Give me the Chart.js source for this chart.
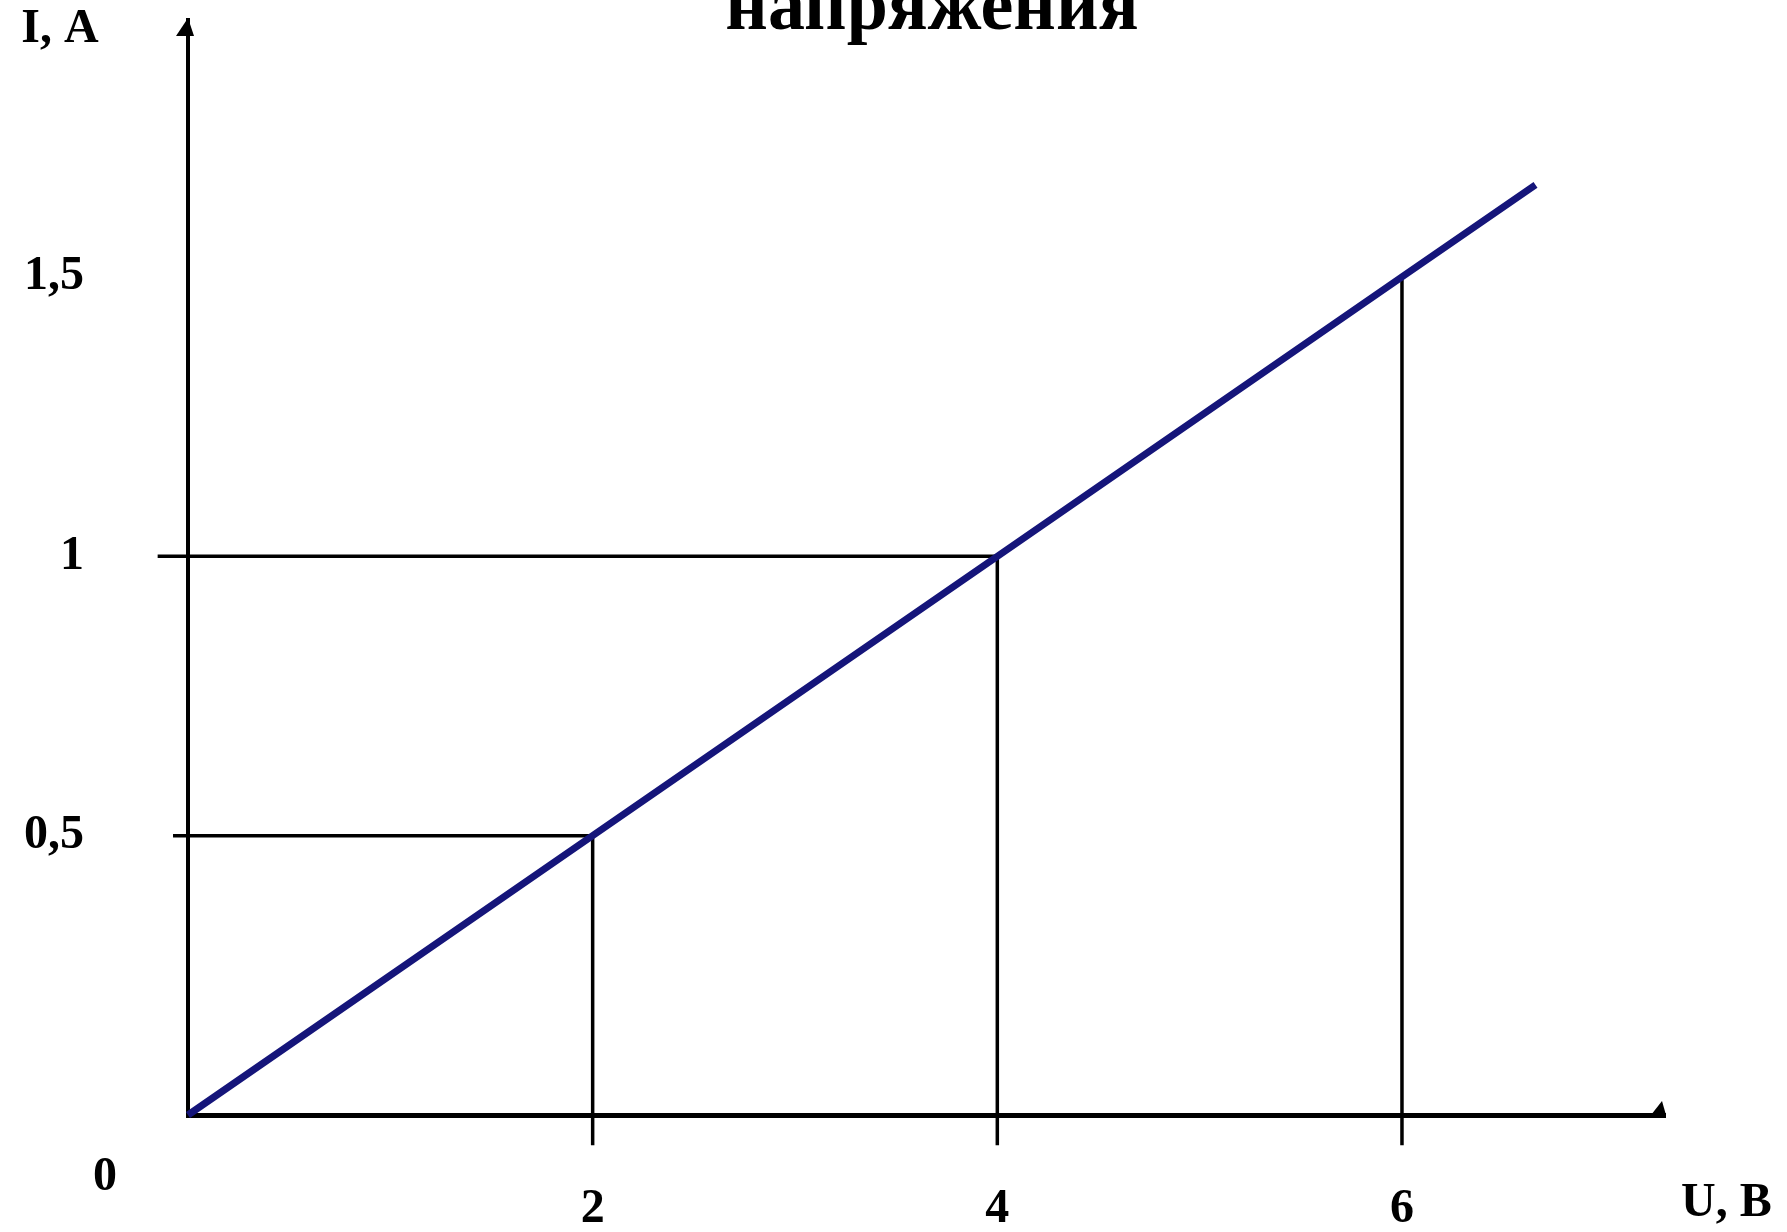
<!DOCTYPE html>
<html>
<head>
<meta charset="utf-8">
<script src="https://cdn.jsdelivr.net/npm/chart.js@4"></script>
<style>
  html, body { margin: 0; padding: 0; background: #fff; }
  #wrap { width: 1787px; height: 1232px; position: relative; }
</style>
</head>
<body>
<div id="wrap"><canvas id="chartVA"></canvas></div>
<script>
// вольт-амперная характеристика: I = U / R
const lineU = [0, 2, 4, 6, 6.66];
const lineI = [0, 0.5, 1, 1.5, 1.665];

// вспомогательные линии к точкам графика
const guideU = [2, 4, 6];
const guideI = [0.5, 1, 1.5];
const guideLeft = [-0.074, -0.15, null];
const guideBottom = -0.054;

const xTicks = [2, 4, 6];
const xTickLabels = ['2', '4', '6'];
const yTicks = [0.5, 1, 1.5];
const yTickLabels = ['0,5', '1', '1,5'];

const titleText = 'напряжения';
const xTitle = 'U, В';
const yTitle = 'I, A';
const originLabel = '0';

const labelFont = 'bold 48px "Liberation Serif"';

const guideSets = guideU.map((u, k) => {
    const pts = [];
    if (guideLeft[k] !== null) pts.push({x: guideLeft[k], y: guideI[k]});
    pts.push({x: u, y: guideI[k]});
    pts.push({x: u, y: guideBottom});
    return {
        data: pts,
        showLine: true,
        borderColor: '#000',
        borderWidth: 3.5,
        pointRadius: 0,
        clip: false
    };
});

const extras = {
    id: 'extras',
    afterDraw(chart) {
        const ctx = chart.ctx;
        const x = chart.scales.x, y = chart.scales.y;
        const ox = x.getPixelForValue(0), oy = y.getPixelForValue(0);
        const top = chart.chartArea.top, right = chart.chartArea.right;
        ctx.save();
        ctx.fillStyle = '#000';
        // стрелки осей
        ctx.beginPath();
        ctx.moveTo(ox, top - 2);
        ctx.lineTo(ox - 12, top + 16);
        ctx.lineTo(ox + 6, top + 16);
        ctx.closePath();
        ctx.fill();
        ctx.beginPath();
        ctx.moveTo(right - 14, oy);
        ctx.lineTo(right + 1, oy);
        ctx.lineTo(right - 3, oy - 14);
        ctx.closePath();
        ctx.fill();
        // подписи
        ctx.font = labelFont;
        ctx.textBaseline = 'middle';
        ctx.textAlign = 'center';
        ctx.fillText(yTitle, 60, 30);
        ctx.fillText(originLabel, ox - 83, oy + 63);
        ctx.textAlign = 'left';
        ctx.fillText(xTitle, right + 16, oy + 89);
        ctx.font = 'bold 74px "Liberation Serif"';
        ctx.textAlign = 'center';
        ctx.textBaseline = 'alphabetic';
        ctx.fillText(titleText, 932, 29);
        ctx.restore();
    }
};

const ctx = document.getElementById('chartVA').getContext('2d');
new Chart(ctx, {
    type: 'scatter',
    data: {
        datasets: [{
            data: lineU.map((u, i) => ({x: u, y: lineI[i]})),
            showLine: true,
            borderColor: '#15157a',
            borderWidth: 7,
            pointRadius: 0,
            clip: false
        }].concat(guideSets)
    },
    options: {
        responsive: true,
        maintainAspectRatio: false,
        animation: false,
        layout: {
            padding: {top: 20, right: 122, left: 0, bottom: 0}
        },
        plugins: {
            legend: {display: false},
            tooltip: {enabled: false}
        },
        scales: {
            x: {
                type: 'linear',
                min: 0,
                max: 7.3,
                grid: {display: false, drawTicks: false},
                border: {display: true, color: '#000', width: 5},
                afterBuildTicks: s => { s.ticks = xTicks.map(v => ({value: v})); },
                afterFit: s => { s.height = 117; s.paddingLeft = 0; s.paddingRight = 0; },
                ticks: {
                    color: '#000',
                    font: {family: 'Liberation Serif', size: 48, weight: 'bold'},
                    padding: 66,
                    maxRotation: 0,
                    callback: (v) => xTickLabels[xTicks.indexOf(v)]
                }
            },
            y: {
                type: 'linear',
                min: 0,
                max: 1.96,
                grid: {display: false, drawTicks: false},
                border: {display: true, color: '#000', width: 4},
                afterBuildTicks: s => { s.ticks = yTicks.map(v => ({value: v})); },
                afterFit: s => { s.width = 188; s.paddingTop = 0; s.paddingBottom = 0; },
                ticks: {
                    color: '#000',
                    font: {family: 'Liberation Serif', size: 48, weight: 'bold'},
                    padding: 104,
                    callback: (v) => yTickLabels[yTicks.indexOf(v)]
                }
            }
        }
    },
    plugins: [extras]
});
</script>
</body>
</html>
